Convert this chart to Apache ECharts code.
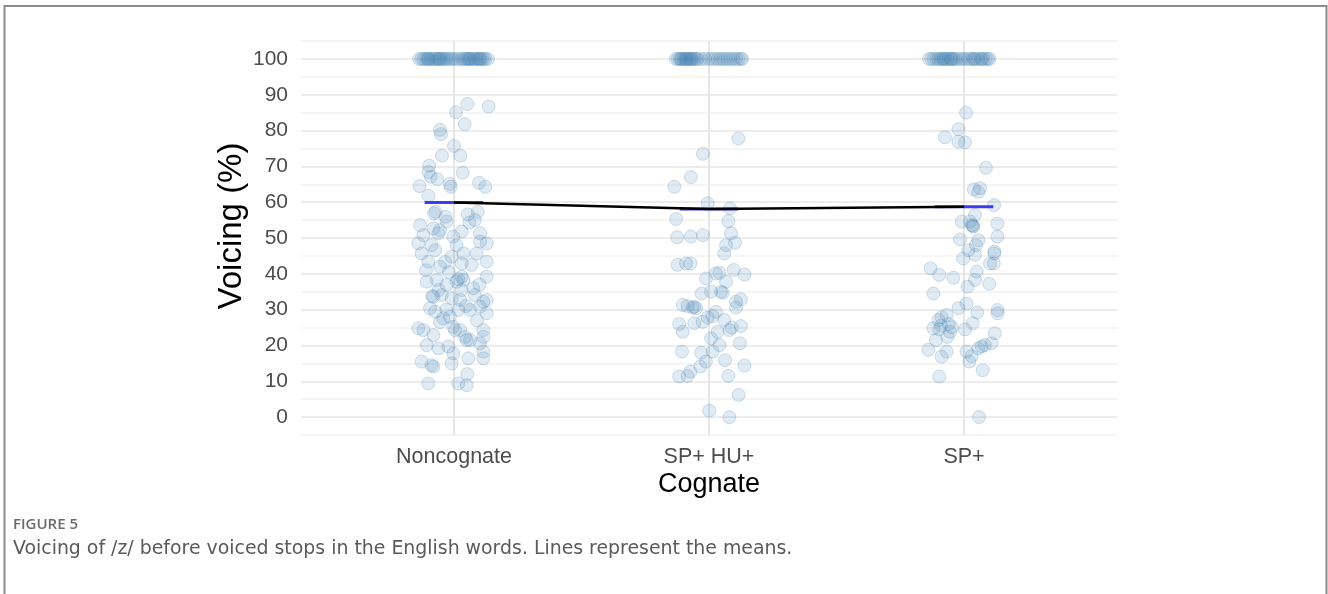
<!DOCTYPE html>
<html>
<head>
<meta charset="utf-8">
<script src="https://cdn.jsdelivr.net/npm/echarts@6/dist/echarts.min.js"></script>
<style>
  html, body { margin: 0; padding: 0; background: #fff; }
  #chart { width: 1328px; height: 594px; }
</style>
</head>
<body>
<div id="chart"></div>
<script>
// Cognate categories on the x axis
const categories = ['Noncognate', 'SP+ HU+', 'SP+'];

// Y tick labels (voicing, %)
const yTicks = [0, 10, 20, 30, 40, 50, 60, 70, 80, 90, 100];

// Group means of voicing (%)
const means = [59.9, 58.1, 58.7];

// Individual tokens: [horizontal jitter within category, voicing %]
const noncognate = [
  // fully voiced tokens
  [-0.137,100],[-0.128,100],[-0.120,100],[-0.112,100],[-0.105,100],[-0.100,100],[-0.098,100],[-0.090,100],
  [-0.083,100],[-0.076,100],[-0.070,100],[-0.063,100],[-0.060,100],[-0.056,100],[-0.050,100],[-0.043,100],
  [-0.036,100],[-0.030,100],[-0.022,100],[-0.012,100],[-0.004,100],[0.006,100],[0.018,100],[0.030,100],
  [0.037,100],[0.044,100],[0.050,100],[0.057,100],[0.060,100],[0.063,100],[0.070,100],[0.077,100],
  [0.083,100],[0.090,100],[0.097,100],[0.100,100],[0.104,100],[0.110,100],[0.117,100],[0.124,100],[0.133,100],
  // partially voiced tokens
  [0.052,87.4],[0.136,86.7],[0.008,85.1],[0.042,81.8],[-0.055,80.2],[-0.051,79.0],[0.000,75.7],[-0.047,73.0],
  [0.025,73.0],[-0.097,70.2],[-0.100,68.4],[0.034,68.2],[-0.091,67.1],[-0.065,66.4],[-0.135,64.5],[-0.016,65.1],
  [-0.013,64.3],[0.098,65.4],[0.123,64.3],[-0.100,61.8],
  [-0.133,53.6],[-0.078,56.9],[-0.072,57.3],[-0.033,55.9],[-0.029,54.6],[0.054,56.6],[0.093,57.3],[0.082,55.0],
  [0.060,54.3],[-0.081,52.7],[-0.055,52.2],[-0.120,50.8],[0.030,51.8],[0.102,51.3],[-0.003,50.4],
  [-0.061,51.3],[-0.140,48.5],[-0.088,48.0],[0.010,48.0],[0.102,49.0],[0.128,48.5],
  [-0.127,45.7],[-0.074,46.6],[0.037,45.7],[0.089,45.7],[-0.009,44.8],
  [-0.101,43.4],[-0.055,42.0],[0.030,42.9],[0.128,43.4],[0.069,42.5],[-0.035,43.3],[-0.110,41.0],[-0.020,40.5],
  [-0.107,37.8],[-0.068,38.3],[0.030,39.2],[0.037,38.3],[0.128,39.2],[0.010,37.8],[-0.029,36.9],[0.016,38.5],
  [0.075,36.0],[0.100,37.0],[0.030,35.5],[-0.060,35.5],
  [-0.081,33.6],[-0.048,34.1],[-0.009,33.2],[0.024,32.7],[0.082,34.1],[0.115,32.2],[0.128,32.7],[-0.086,33.8],
  [-0.094,30.4],[-0.074,29.4],[0.017,29.9],[0.063,29.9],[0.102,30.8],[0.128,29.0],[-0.042,27.6],[-0.016,28.0],
  [0.047,31.0],[-0.030,30.0],[0.090,27.0],[-0.055,26.5],
  [-0.140,24.8],[-0.120,24.3],[-0.081,22.9],[-0.003,25.2],[0.024,24.3],[0.043,22.4],[0.115,24.3],[0.115,22.4],
  [0.004,24.3],[0.063,21.5],
  [-0.107,20.1],[-0.061,19.2],[-0.022,19.7],[-0.003,17.8],[0.102,20.6],[0.115,18.3],[0.050,21.5],
  [-0.127,15.5],[-0.088,14.5],[-0.081,14.1],[-0.009,15.0],[0.056,16.4],[0.115,16.4],
  [-0.101,9.4],[0.017,9.4],[0.050,8.9],[0.052,12.0]
];

const spHu = [
  // fully voiced tokens
  [-0.130,100],[-0.122,100],[-0.115,100],[-0.110,100],[-0.108,100],[-0.100,100],[-0.094,100],[-0.090,100],
  [-0.088,100],[-0.082,100],[-0.076,100],[-0.070,100],[-0.070,100],[-0.063,100],[-0.056,100],[-0.050,100],
  [-0.044,100],[-0.030,100],[-0.015,100],[0.000,100],[0.012,100],[0.025,100],[0.035,100],[0.045,100],
  [0.055,100],[0.065,100],[0.075,100],[0.085,100],[0.095,100],[0.105,100],[0.115,100],[0.125,100],[0.130,100],
  // partially voiced tokens
  [0.115,77.8],[-0.024,73.5],[-0.071,67.0],[-0.136,64.3],[-0.005,59.7],[0.082,58.3],[-0.129,55.3],[0.076,54.7],
  [-0.125,50.2],[-0.071,50.4],[-0.024,50.8],[0.086,51.3],
  [0.067,48.0],[0.102,48.7],[0.060,45.7],
  [-0.123,42.5],[-0.090,42.9],[-0.073,42.9],
  [-0.012,38.7],[0.027,40.1],[0.041,40.3],[0.097,41.1],[0.139,39.8],[0.067,37.8],[0.008,35.0],[0.047,35.0],
  [-0.029,34.5],[0.054,34.7],
  [-0.103,31.3],[-0.084,31.0],[-0.064,30.6],[-0.051,30.4],[-0.058,30.8],[0.106,32.2],[0.125,32.9],[0.106,30.6],
  [-0.117,26.0],[-0.103,23.8],[-0.058,26.2],[-0.025,26.6],[-0.005,27.8],[0.014,28.2],[0.027,29.4],[0.060,27.1],
  [0.080,24.3],[0.089,25.0],[0.125,25.4],[0.034,23.8],
  [0.008,22.0],[0.041,20.1],[0.121,20.6],[-0.106,18.3],[-0.031,18.0],[0.014,18.3],
  [-0.012,15.5],[-0.034,14.1],[0.063,15.9],[0.139,14.4],[-0.073,12.7],[-0.117,11.3],[-0.084,11.5],[0.076,11.5],
  [0.116,6.2],[0.001,1.8],[0.080,0]
];

const sp = [
  // fully voiced tokens
  [-0.137,100],[-0.128,100],[-0.118,100],[-0.108,100],[-0.100,100],[-0.093,100],[-0.086,100],[-0.080,100],
  [-0.079,100],[-0.072,100],[-0.065,100],[-0.058,100],[-0.050,100],[-0.050,100],[-0.043,100],[-0.036,100],
  [-0.028,100],[-0.015,100],[-0.005,100],[0.005,100],[0.016,100],[0.026,100],[0.036,100],[0.040,100],
  [0.046,100],[0.056,100],[0.066,100],[0.070,100],[0.076,100],[0.086,100],[0.094,100],[0.100,100],
  // partially voiced tokens
  [0.008,85.0],[-0.022,80.4],[-0.075,78.1],[-0.022,76.9],[0.004,76.7],[0.086,69.6],[0.039,63.6],[0.063,63.9],
  [0.056,62.9],[0.118,59.2],[0.043,56.4],[-0.009,54.6],[0.024,54.6],[0.037,53.2],[0.031,53.6],[0.035,53.4],
  [0.131,54.0],[-0.016,49.6],[0.056,49.4],[0.131,50.4],
  [0.047,48.0],[0.017,46.6],[0.043,45.3],[-0.003,44.3],[0.119,46.2],[0.119,45.7],[0.102,42.9],[0.117,42.9],
  [-0.131,41.5],[-0.097,39.7],[-0.042,38.9],[0.050,40.6],[0.043,38.3],[0.014,36.4],[0.099,37.2],
  [-0.120,34.5],
  [0.010,31.7],[-0.022,30.4],[0.052,29.2],[0.132,29.9],[0.132,29.0],[-0.068,28.5],[-0.088,27.9],[-0.100,27.1],
  [-0.120,24.8],[-0.097,24.5],[-0.048,25.1],[-0.055,23.8],[0.034,26.2],[0.004,24.5],[-0.090,25.5],[-0.060,26.0],
  [-0.065,22.4],[-0.110,21.5],[0.121,23.4],[0.108,20.6],[0.069,19.7],[0.056,19.2],[0.082,20.1],
  [-0.140,18.8],[-0.068,18.3],[-0.088,16.9],[0.010,18.3],[0.030,17.0],[0.021,15.5],[0.073,13.1],
  [-0.097,11.3],[0.059,0]
];

const groups = [noncognate, spHu, sp];

const POINT = 'rgba(70,130,180,0.16)';
const POINT_EDGE = 'rgba(70,130,180,0.24)';
const MEAN_BAR = '#3c3cf5';
const HALF = 0.115;

const points = [];
groups.forEach((g, i) => g.forEach(([j, v]) => points.push([i + j, v])));

const meanBars = means.map((m, i) => ({
  type: 'line',
  silent: true,
  symbol: 'none',
  z: 3,
  lineStyle: { color: MEAN_BAR, width: 3 },
  data: [[i - HALF, m], [i + HALF, m]]
}));

const fontFamily = '"Liberation Sans", Arial, Helvetica, sans-serif';

const chart = echarts.init(document.getElementById('chart'), null, { renderer: 'canvas' });
chart.setOption({
  animation: false,
  backgroundColor: '#ffffff',
  grid: { left: 301, right: 211, top: 41, bottom: 159, containLabel: false },
  xAxis: {
    type: 'value',
    min: -0.6,
    max: 2.6,
    interval: 0.2,
    axisLine: { show: false },
    axisTick: { show: false },
    axisLabel: {
      margin: 11,
      fontSize: 21.5,
      color: '#4d4d4d',
      fontFamily,
      formatter: v => {
        const r = Math.round(v);
        return Math.abs(v - r) < 1e-6 && r >= 0 && r < categories.length ? categories[r] : '';
      }
    },
    splitLine: {
      show: true,
      lineStyle: { width: 2, color: ['rgba(0,0,0,0)', 'rgba(0,0,0,0)', 'rgba(0,0,0,0)', '#e6e6e6', 'rgba(0,0,0,0)'] }
    }
  },
  yAxis: {
    type: 'value',
    min: -5,
    max: 105,
    interval: 5,
    axisLine: { show: false },
    axisTick: { show: false },
    axisLabel: {
      margin: 13,
      fontSize: 21,
      color: '#4d4d4d',
      fontFamily,
      formatter: v => (yTicks.indexOf(v) >= 0 ? String(v) : '')
    },
    splitLine: {
      show: true,
      lineStyle: { width: 1.6, color: ['#f2f2f2', '#e6e6e6'] }
    }
  },
  series: [
    {
      type: 'scatter',
      symbol: 'circle',
      symbolSize: 13,
      silent: true,
      z: 2,
      itemStyle: { color: POINT, borderColor: POINT_EDGE, borderWidth: 1, opacity: 1 },
      data: points
    },
    ...meanBars,
    {
      type: 'line',
      silent: true,
      symbol: 'none',
      z: 4,
      lineStyle: { color: '#000000', width: 2.5 },
      data: means.map((m, i) => [i, m])
    }
  ],
  graphic: [
    {
      type: 'rect',
      silent: true,
      shape: { x: 4.5, y: 6, width: 1322, height: 640 },
      style: { fill: 'none', stroke: '#8c8c8c', lineWidth: 2 }
    },
    {
      type: 'text',
      silent: true,
      x: 232, y: 226,
      rotation: Math.PI / 2,
      style: { text: 'Voicing (%)', x: 0, y: 0, align: 'center', verticalAlign: 'middle',
               font: '33px ' + fontFamily, fill: '#000000' }
    },
    {
      type: 'text',
      silent: true,
      x: 709, y: 485,
      style: { text: 'Cognate', x: 0, y: 0, align: 'center', verticalAlign: 'middle',
               font: '27px ' + fontFamily, fill: '#000000' }
    },
    {
      type: 'text',
      silent: true,
      x: 13, y: 525,
      style: { text: 'FIGURE 5', align: 'left', verticalAlign: 'middle',
               font: '600 15px "Open Sans", sans-serif', fill: '#6b6b6b' }
    },
    {
      type: 'text',
      silent: true,
      x: 13, y: 549,
      style: { text: 'Voicing of /z/ before voiced stops in the English words. Lines represent the means.',
               align: 'left', verticalAlign: 'middle',
               font: '18.9px "DejaVu Sans", sans-serif', fill: '#5a5a5a' }
    }
  ]
});
</script>
</body>
</html>
